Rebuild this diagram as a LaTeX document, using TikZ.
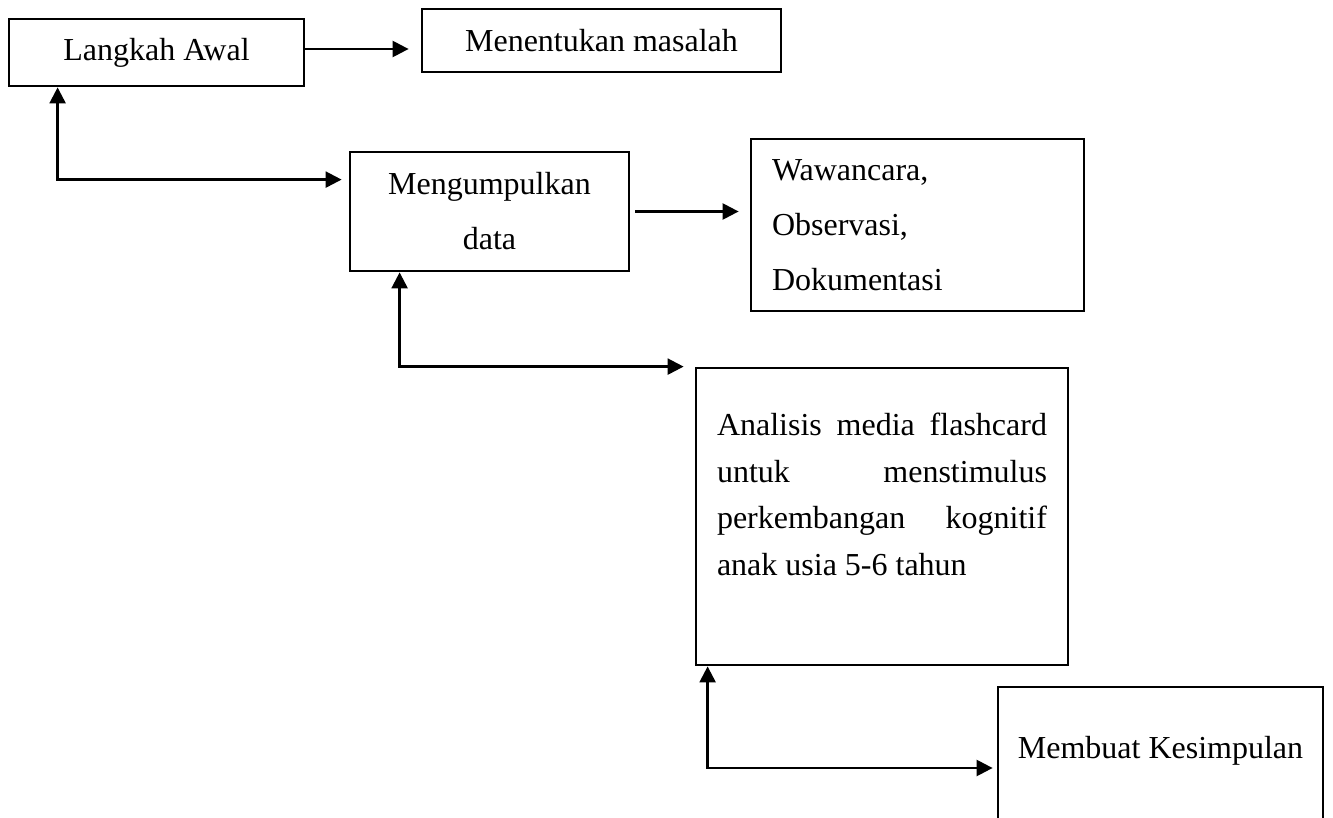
\documentclass[tikz,border=0pt]{standalone}
\usepackage{fontspec}
\setmainfont{Liberation Serif}
\usetikzlibrary{arrows.meta,calc}
\tikzset{
  kotak/.style={draw, line width=1.4pt, inner sep=0pt, align=center},
  panah/.style={line width=1.2pt, -{Triangle[length=8pt,width=8pt]}},
  panahdua/.style={line width=1.2pt, {Triangle[length=8pt,width=8pt]}-{Triangle[length=8pt,width=8pt]}}
}

\begin{document}
\begin{tikzpicture}[x=0.5pt,y=-0.5pt,font=\fontsize{16}{27.5}\selectfont]
            \useasboundingbox (0,0) rectangle (1333,818);
            % coordinates for the boxes
            \node[kotak, minimum width=147.5pt, minimum height=33.5pt] (langkah) at (156.5,52.5) {Langkah Awal};
            \node[kotak, minimum width=179.5pt, minimum height=31.5pt] (masalah) at (601.5,40.5) {Menentukan masalah};
            \node[kotak, minimum width=139.5pt, minimum height=59.5pt] (kumpul) at (489.5,211.5) {Mengumpulkan\\data};
            \node[kotak, align=left, text width=145.5pt, inner xsep=10.5pt, minimum height=86pt] (metode) at (917.5,225) {Wawancara,\\Observasi,\\Dokumentasi};
            \node[kotak, minimum width=186pt, minimum height=148.5pt] (analisis) at (882,516.5) {};
            \node[anchor=north west, text width=165pt, align=justify, inner sep=0pt, font=\fontsize{16}{23.25}\selectfont] (analisistxt) at ([xshift=11pt,yshift=-23pt]analisis.north west) {Analisis media flashcard\linebreak untuk menstimulus\linebreak perkembangan kognitif\linebreak anak usia 5-6 tahun};
            \node[kotak, minimum width=162.5pt, text height=35.5pt, text depth=45.5pt] (simpul) at (1160.5,768) {Membuat Kesimpulan};
            
            % straight arrows
            \draw[panah, shorten >=6pt] ([yshift=1.75pt]langkah.east) -- ([yshift=1.75pt]langkah.east -| masalah.west);
            \draw[panah, shorten <=2.5pt, shorten >=5.5pt] (kumpul.east) -- (kumpul.east -| metode.west);
            
            % double arrows down the steps
            \draw[panahdua, shorten >=3.5pt] ([xshift=25pt]langkah.south west) |- ([yshift=-14.5pt]kumpul.north west);
            \draw[panahdua, shorten >=5.5pt] ([xshift=25.5pt]kumpul.south west) |- (analisis.north west);
            \draw[panahdua, shorten >=2pt] ([xshift=6.5pt]analisis.south west) |- (simpul.west);
\end{tikzpicture}
\end{document}
